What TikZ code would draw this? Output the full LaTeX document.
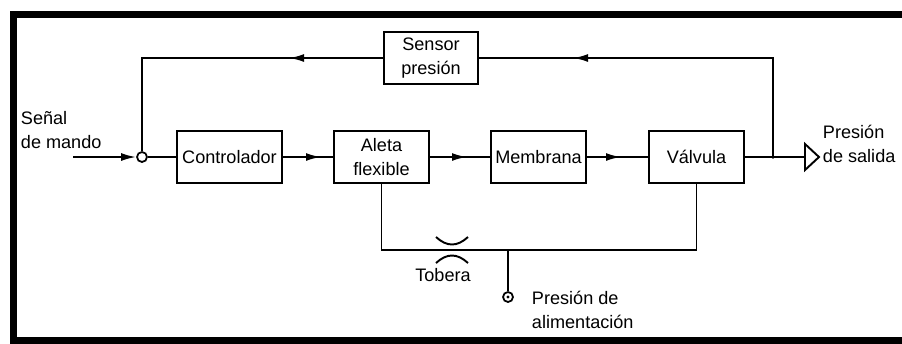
\documentclass[tikz,border=0pt]{standalone}
\usepackage{fontspec}
\setmainfont{Liberation Sans}
\usetikzlibrary{arrows.meta,decorations.markings}

\begin{document}
\begin{tikzpicture}[x=0.02cm,y=-0.02cm,line width=1.1pt,font=\fontsize{10.3}{13.4}\selectfont]
	\tikzstyle{caja}=[draw,align=center,minimum width=1.9cm,minimum height=1.04cm,inner sep=2pt];
	\tikzstyle{punto}=[circle,draw,line width=1pt,inner sep=0pt,minimum size=0.2cm];
	\tikzstyle{texto}=[align=left,anchor=west,inner sep=0pt];
	\tikzset{flecha/.style={postaction={decorate},decoration={markings,mark=at position #1 with {\arrow{Latex[length=8.5pt,width=4.5pt]}}}}};
	\useasboundingbox (0,0) rectangle (902,343);
	%% frame
	\draw[line width=0.13cm] (13.5,14.5) rectangle (906,340.5);
	%% blocks
	\node[caja,minimum width=1.88cm] (sensor) at (431,58)  {Sensor\\presión};
	\node[caja,minimum width=2.1cm]  (ctrl)   at (229.5,157) {Controlador};
	\node[caja]                      (aleta)  at (381.5,157) {Aleta\\flexible};
	\node[caja]                      (memb)   at (538.5,157) {Membrana};
	\node[caja]                      (valv)   at (696.5,157) {Válvula};
	%% comparator and input
	\node[punto] (suma) at (142,157) {};
	\coordinate (entrada) at (73,157);
	\node[texto] (tsenal) at (20,130) {Señal\\de mando};
	\draw[-{Latex[length=8.5pt,width=4.5pt]}] (entrada) -- (suma);
	%% forward path
	\draw (suma) -- (ctrl);
	\draw[flecha=0.76cm] (ctrl) -- (aleta);
	\draw[flecha=0.74cm] (aleta) -- (memb);
	\draw[flecha=0.68cm] (memb) -- (valv);
	%% output
	\coordinate (nudo)   at (773,157);
	\coordinate (salida) at (805,157);
	\draw (valv) -- (nudo) -- (salida);
	\draw (salida) -- ++(0,-13) -- ++(14,13) -- ++(-14,13) -- cycle;
	\fill (nudo) circle (1pt);
	\node[texto] (tsalida) at (822,144) {Presión\\de salida};
	%% feedback
	\draw[flecha=5.98cm] (nudo) |- (sensor);
	\draw[flecha=1.88cm] (sensor) -| (suma);
	%% supply and nozzle
	\coordinate (tobera) at (452,250);
	\coordinate (union)  at (508,250);
	\draw (aleta) |- (union) -| (valv);
	\draw[line width=1.1pt] (tobera) ++(-16,-13) .. controls +(11,10) and +(-11,10) .. ++(32,0);
	\draw[line width=1.1pt] (tobera) ++(-16,13) .. controls +(11,-10) and +(-11,-10) .. ++(32,0);
	\node (ttobera) at (443,275) {Tobera};
	\node[punto] (alim) at (508,297) {};
	\fill (alim.center) circle (0.9pt);
	\draw (union) -- (alim);
	\node[texto] (talim) at (531,310) {Presión de\\alimentación};
\end{tikzpicture}
\end{document}
